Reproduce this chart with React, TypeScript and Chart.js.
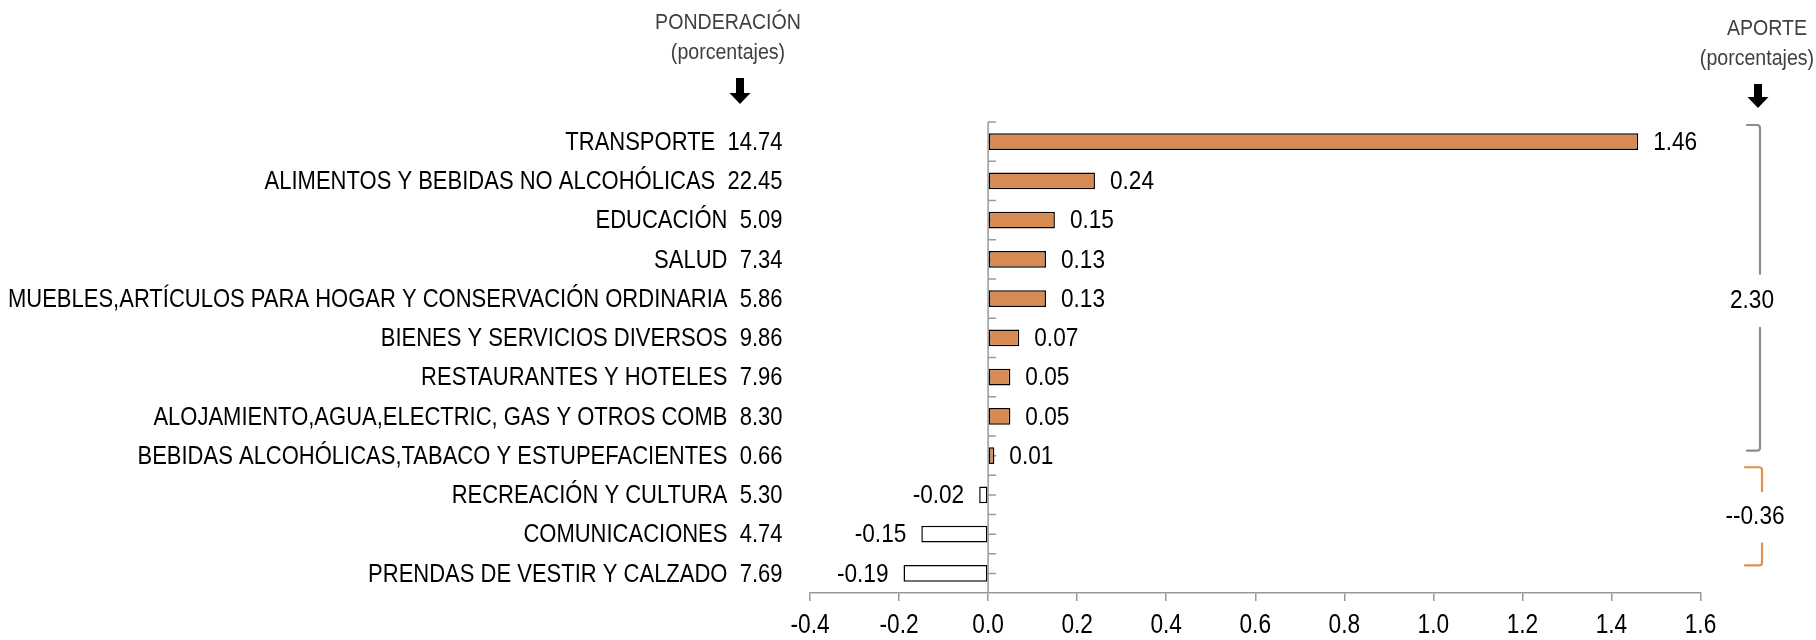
import React, { useEffect, useRef } from "react";
import { Chart, registerables } from "chart.js";

Chart.register(...registerables);

const categories = [
  "TRANSPORTE",
  "ALIMENTOS Y BEBIDAS NO ALCOHÓLICAS",
  "EDUCACIÓN",
  "SALUD",
  "MUEBLES,ARTÍCULOS PARA HOGAR Y CONSERVACIÓN ORDINARIA",
  "BIENES Y SERVICIOS DIVERSOS",
  "RESTAURANTES Y HOTELES",
  "ALOJAMIENTO,AGUA,ELECTRIC, GAS Y OTROS COMB",
  "BEBIDAS ALCOHÓLICAS,TABACO Y ESTUPEFACIENTES",
  "RECREACIÓN Y CULTURA",
  "COMUNICACIONES",
  "PRENDAS DE VESTIR Y CALZADO",
];
const ponderacion = [14.74, 22.45, 5.09, 7.34, 5.86, 9.86, 7.96, 8.3, 0.66, 5.3, 4.74, 7.69];
const aporte = [1.46, 0.24, 0.15, 0.13, 0.13, 0.07, 0.05, 0.05, 0.014, -0.02, -0.15, -0.19];
const xMin = -0.4;
const xMax = 1.6;
const xStep = 0.2;
const groupFirst = [0, 9];
const groupLast = [8, 11];
const groupTotals = ["2.30", "--0.36"];

const FONT = "'Liberation Sans Narrow', 'Arial Narrow', 'Liberation Sans', Arial, sans-serif";
const ORANGE = "#D78B52";
const GRAY = "#999999";

function txt(
  ctx: CanvasRenderingContext2D,
  s: string,
  x: number,
  y: number,
  align: CanvasTextAlign,
  size: number,
  sx: number,
  color: string
) {
  ctx.save();
  ctx.font = `${size}px ${FONT}`;
  ctx.fillStyle = color;
  ctx.textAlign = align;
  ctx.textBaseline = "middle";
  ctx.translate(x, y);
  ctx.scale(sx, 1);
  ctx.fillText(s, 0, 0);
  ctx.restore();
}

function arrow(ctx: CanvasRenderingContext2D, x: number, y1: number, y2: number) {
  const head = 11;
  ctx.fillStyle = "#000";
  ctx.fillRect(x - 4, y1, 8, y2 - y1 - head + 1);
  ctx.beginPath();
  ctx.moveTo(x - 10.5, y2 - head);
  ctx.lineTo(x + 10.5, y2 - head);
  ctx.lineTo(x, y2);
  ctx.closePath();
  ctx.fill();
}

function bracket(
  ctx: CanvasRenderingContext2D,
  x: number,
  hook: number,
  top: number,
  bottom: number,
  gapTop: number,
  gapBottom: number,
  color: string
) {
  ctx.save();
  ctx.strokeStyle = color;
  ctx.lineWidth = 2.2;
  ctx.lineJoin = "round";
  ctx.lineCap = "round";
  ctx.beginPath();
  ctx.moveTo(x - hook, top);
  ctx.arcTo(x, top, x, top + 10, 3);
  ctx.lineTo(x, gapTop);
  ctx.moveTo(x, gapBottom);
  ctx.arcTo(x, bottom, x - hook, bottom, 3);
  ctx.lineTo(x - hook, bottom);
  ctx.stroke();
  ctx.restore();
}

const overlay = {
  id: "overlay",
  beforeDatasetsDraw(chart: any) {
    const ctx = chart.ctx as CanvasRenderingContext2D;
    const xs = chart.scales.x;
    const ys = chart.scales.y;
    const area = chart.chartArea;
    const x0 = xs.getPixelForValue(0);
    const band = ys.getPixelForValue(1) - ys.getPixelForValue(0);
    ctx.save();
    ctx.strokeStyle = GRAY;
    ctx.lineWidth = 1.5;
    ctx.beginPath();
    ctx.moveTo(x0, area.top);
    ctx.lineTo(x0, area.bottom);
    for (let i = 0; i < categories.length; i++) {
      const c = ys.getPixelForValue(i);
      for (const y of [c - band / 2, c]) {
        ctx.moveTo(x0, y);
        ctx.lineTo(x0 + 8, y);
      }
    }
    ctx.stroke();
    ctx.restore();
  },
  afterDatasetsDraw(chart: any) {
    const ctx = chart.ctx as CanvasRenderingContext2D;
    const xs = chart.scales.x;
    const ys = chart.scales.y;
    const area = chart.chartArea;
    const band = ys.getPixelForValue(1) - ys.getPixelForValue(0);

    // category labels (condensed)
    const labels = chart.data.labels as string[];
    labels.forEach((l, i) => {
      txt(ctx, l, area.left - 27.5, ys.getPixelForValue(i) + 1, "right", 26, 0.846, "#000");
    });

    // x tick labels (condensed)
    xs.ticks.forEach((t: any) => {
      txt(ctx, Number(t.value).toFixed(1), xs.getPixelForValue(t.value), xs.top + 33, "center", 27, 0.84, "#000");
    });

    // data labels
    const meta = chart.getDatasetMeta(0);
    meta.data.forEach((bar: any, i: number) => {
      const v = aporte[i];
      const t = v.toFixed(2);
      if (v >= 0) txt(ctx, t, bar.x + 15, bar.y + 1, "left", 26, 0.87, "#000");
      else txt(ctx, t, bar.x - 15, bar.y + 1, "right", 26, 0.87, "#000");
    });

    // headers
    const hc = "#404040";
    txt(ctx, "PONDERACIÓN", 728, 23, "center", 22, 0.89, hc);
    txt(ctx, "(porcentajes)", 728, 53, "center", 22, 0.89, hc);
    txt(ctx, "APORTE", 1767, 29, "center", 22, 0.89, hc);
    txt(ctx, "(porcentajes)", 1757, 59, "center", 22, 0.89, hc);
    arrow(ctx, 740, 78, 104);
    arrow(ctx, 1758, 84, 108);

    // group brackets
    const gTop = ys.getPixelForValue(groupFirst[0]) - band / 2 + 3;
    const gBot = ys.getPixelForValue(groupLast[0]) - 5;
    const gText = (gTop + gBot) / 2 + 13;
    bracket(ctx, 1760, 13, gTop, gBot, gText - 27, gText + 27, "#8c8c8c");
    const oTop = ys.getPixelForValue(groupFirst[1]) - band / 2 - 8;
    const oBot = ys.getPixelForValue(groupLast[1]) - 8;
    const oText = (oTop + oBot) / 2 + 1;
    bracket(ctx, 1762, 17, oTop, oBot, oText - 26, oText + 26, "#E0904F");
    txt(ctx, groupTotals[0], 1752, gText, "center", 26, 0.87, "#000");
    txt(ctx, groupTotals[1], 1755, oText, "center", 26, 0.87, "#000");
  },
};

export default function App() {
  const ref = useRef<HTMLCanvasElement | null>(null);
  useEffect(() => {
    document.body.style.margin = "0";
    document.body.style.overflow = "hidden";
    const canvas = ref.current!;
    const chart = new Chart(canvas, {
      type: "bar",
      data: {
        labels: categories.map((c, i) => `${c}  ${ponderacion[i].toFixed(2)}`),
        datasets: [
          {
            data: aporte,
            backgroundColor: aporte.map((v) => (v >= 0 ? ORANGE : "#ffffff")),
            borderColor: "#000000",
            borderWidth: 1.5,
            borderSkipped: false,
            barPercentage: 0.43,
            categoryPercentage: 1,
          },
        ],
      },
      options: {
        indexAxis: "y",
        animation: false,
        responsive: false,
        maintainAspectRatio: false,
        layout: { padding: { top: 122, right: 115.5, bottom: 0, left: 0 } },
        plugins: {
          legend: { display: false },
          tooltip: { enabled: false },
          title: { display: false },
        },
        scales: {
          x: {
            type: "linear",
            min: xMin,
            max: xMax,
            afterFit: (s: any) => {
              s.height = 47;
            },
            ticks: {
              stepSize: xStep,
              padding: 11,
              color: "rgba(0,0,0,0)",
              font: { family: FONT, size: 20 },
              callback: (v: any) => Number(v).toFixed(1),
            },
            grid: {
              drawOnChartArea: false,
              drawTicks: true,
              tickLength: 8,
              color: GRAY,
              lineWidth: 1.5,
            },
            border: { color: GRAY, width: 1.5 },
          },
          y: {
            type: "category",
            afterFit: (s: any) => {
              s.width = 810;
            },
            ticks: {
              padding: 27.5,
              color: "rgba(0,0,0,0)",
              font: { family: FONT, size: 20 },
              autoSkip: false,
            },
            grid: { display: false, drawTicks: false },
            border: { display: false },
          },
        },
      },
      plugins: [overlay],
    });
    return () => chart.destroy();
  }, []);
  return <canvas ref={ref} width={1816} height={640} style={{ display: "block" }} />;
}
